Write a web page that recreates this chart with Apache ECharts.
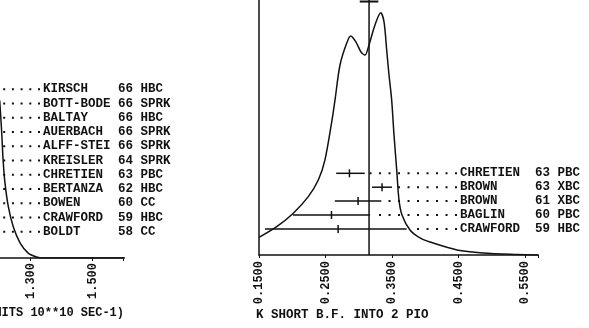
<!DOCTYPE html>
<html><head><meta charset="utf-8">
<script src="https://cdn.jsdelivr.net/npm/echarts@6/dist/echarts.min.js"></script>
<style>html,body{margin:0;padding:0;background:#fff}#c{width:589px;height:328px}</style>
</head><body><div id="c"></div>
<script>
// ---------- Left panel (partly cut off) ----------
const leftNames = ['KIRSCH','BOTT-BODE','BALTAY','AUERBACH','ALFF-STEI','KREISLER','CHRETIEN','BERTANZA','BOWEN','CRAWFORD','BOLDT'];
const leftYears = ['66','66','66','66','66','64','63','62','60','59','58'];
const leftTypes = ['HBC','SPRK','HBC','SPRK','SPRK','SPRK','PBC','HBC','CC','HBC','CC'];
const leftIdeoX = [1.200,1.206,1.211,1.217,1.228,1.244,1.266,1.292,1.319,1.340,1.604];
const leftIdeoY = [61.0,49.6,38.0,29.1,19.8,12.0,5.8,1.9,0.4,0,0];

// ---------- Right panel: K SHORT B.F. INTO 2 PIO ----------
const rightNames = ['CHRETIEN','BROWN','BROWN','BAGLIN','CRAWFORD'];
const rightYears = ['63','63','61','60','59'];
const rightTypes = ['PBC','XBC','XBC','PBC','HBC'];
const rightValues = [0.286,0.335,0.299,0.259,0.269];
const rightErrLo = [0.020,0.015,0.035,0.058,0.110];
const rightErrHi = [0.023,0.015,0.035,0.058,0.103];
const rightMean = 0.3155;
const rightMeanErr = 0.014;
const rightIdeoX = [0.150,0.1766,0.2016,0.2241,0.2392,0.2492,0.2598,0.2643,0.2718,0.2819,0.2879,0.2959,0.3034,0.3094,0.3154,0.3244,0.3330,0.3380,0.3420,0.3455,0.3495,0.3530,0.3571,0.3605,0.3650,0.3771,0.3921,0.4071,0.4477,0.4868,0.5380,0.5695];
const rightIdeoY = [6.9,11.1,16.4,22.9,29.4,37.3,52.9,60.8,74.5,83.1,85.9,83.5,79.6,78.4,82.4,90.2,95.0,91.4,80.4,70.6,60.8,47.1,33.3,21.6,15.7,9.8,6.7,5.1,2.0,0.8,0.2,0];

const INK = '#111';
const FONT = '"Liberation Mono", "DejaVu Sans Mono", monospace';
const LEFT_LABEL_X = 1.3397, RIGHT_LABEL_X = 0.4523;

function pad(s, n){ while (s.length < n) s += ' '; return s; }
function rowText(n, y, t){ return pad(n, 10) + y + ' ' + t; }
function tickFmt(min, step, dec){
  return v => { const k = (v - min) / step; return Math.abs(k - Math.round(k)) < 1e-6 ? v.toFixed(dec) : ''; };
}

const leftRows = leftNames.map((n, i) => [1.1, i, rowText(n, leftYears[i], leftTypes[i])]);
const rightRows = rightNames.map((n, i) => [rightValues[i] - rightErrLo[i], i, rightValues[i], rightValues[i] + rightErrHi[i], rowText(n, rightYears[i], rightTypes[i])]);

const chart = echarts.init(document.getElementById('c'), null, {renderer: 'canvas'});
chart.setOption({
  animation: false,
  backgroundColor: '#fff',
  grid: [
    {left: -31.3, top: 0, width: 155, height: 258, outerBoundsMode: 'none', containLabel: false},
    {left: 259, top: 0, width: 279.3, height: 255, outerBoundsMode: 'none', containLabel: false}
  ],
  xAxis: [
    {gridIndex: 0, type: 'value', min: 1.1, max: 1.6, interval: 0.2,
     axisLine: {onZero: false, lineStyle: {color: INK, width: 1.5}},
     axisTick: {show: true, length: 3, lineStyle: {color: INK}},
     splitLine: {show: false},
     axisLabel: {rotate: 90, margin: 5, color: INK, fontFamily: FONT, fontWeight: 'bold', fontSize: 12, formatter: tickFmt(1.1, 0.2, 3)}},
    {gridIndex: 1, type: 'value', min: 0.15, max: 0.57, interval: 0.1,
     axisLine: {onZero: false, lineStyle: {color: INK, width: 1.5}},
     axisTick: {show: true, length: 3, lineStyle: {color: INK}},
     splitLine: {show: false},
     axisLabel: {rotate: 90, margin: 6, color: INK, fontFamily: FONT, fontWeight: 'bold', fontSize: 12, formatter: tickFmt(0.15, 0.1, 4)}}
  ],
  yAxis: [
    {gridIndex: 0, type: 'value', min: 0, max: 100, show: false},
    {gridIndex: 0, type: 'value', min: -6.271, max: 11.847, inverse: true, show: false},
    {gridIndex: 1, type: 'value', min: 0, max: 100,
     axisLine: {show: true, onZero: false, lineStyle: {color: INK, width: 1.5}},
     axisTick: {show: false}, axisLabel: {show: false}, splitLine: {show: false}},
    {gridIndex: 1, type: 'value', min: -12.468, max: 5.877, inverse: true, show: false}
  ],
  graphic: [
    {type: 'text', x: 124, y: 313, style: {text: '(UNITS 10**10 SEC-1)', align: 'right', verticalAlign: 'middle', fill: INK, font: 'bold 12px ' + FONT}},
    {type: 'text', x: 256, y: 315, style: {text: 'K SHORT B.F. INTO 2 PIO', align: 'left', verticalAlign: 'middle', fill: INK, font: 'bold 12.5px ' + FONT}}
  ],
  series: [
    {type: 'line', xAxisIndex: 0, yAxisIndex: 0, data: leftIdeoX.map((x, i) => [x, leftIdeoY[i]]),
     showSymbol: false, smooth: 0.3, lineStyle: {color: INK, width: 1.5}},
    {type: 'line', xAxisIndex: 1, yAxisIndex: 2, data: rightIdeoX.map((x, i) => [x, rightIdeoY[i]]),
     showSymbol: false, smooth: 0.3, lineStyle: {color: INK, width: 1.5}},
    {type: 'line', xAxisIndex: 1, yAxisIndex: 2, data: [[rightMean, 0], [rightMean, 100]],
     showSymbol: false, lineStyle: {color: INK, width: 1.5}},
    {type: 'line', xAxisIndex: 1, yAxisIndex: 2, data: [[rightMean - rightMeanErr, 99.4], [rightMean + rightMeanErr, 99.4]],
     showSymbol: false, clip: false, lineStyle: {color: INK, width: 2}},
    {type: 'custom', xAxisIndex: 0, yAxisIndex: 1, clip: false, data: leftRows,
     renderItem(params, api){
       const r = api.value(1);
       const a = api.coord([api.value(0), r]);
       const lab = api.coord([LEFT_LABEL_X, r]);
       return {type: 'group', children: [
         {type: 'line', shape: {x1: lab[0] - 3, y1: lab[1], x2: a[0], y2: a[1]}, style: {stroke: INK, lineWidth: 2, lineDash: [2, 6.7]}},
         {type: 'text', x: lab[0], y: lab[1], style: {text: leftRows[params.dataIndex][2], fill: INK, font: 'bold 12.5px ' + FONT, align: 'left', verticalAlign: 'middle'}}
       ]};
     }},
    {type: 'custom', xAxisIndex: 1, yAxisIndex: 3, clip: false, data: rightRows,
     renderItem(params, api){
       const r = api.value(1);
       const lo = api.coord([api.value(0), r]);
       const c = api.coord([api.value(2), r]);
       const hi = api.coord([api.value(3), r]);
       const lab = api.coord([RIGHT_LABEL_X, r]);
       return {type: 'group', children: [
         {type: 'line', shape: {x1: lo[0], y1: lo[1], x2: hi[0], y2: hi[1]}, style: {stroke: INK, lineWidth: 1.5}},
         {type: 'line', shape: {x1: c[0], y1: c[1] - 4, x2: c[0], y2: c[1] + 4}, style: {stroke: INK, lineWidth: 1.5}},
         {type: 'line', shape: {x1: lab[0] - 3, y1: lab[1], x2: hi[0] + 4, y2: hi[1]}, style: {stroke: INK, lineWidth: 2, lineDash: [2, 7.5]}},
         {type: 'text', x: lab[0], y: lab[1], style: {text: rightRows[params.dataIndex][4], fill: INK, font: 'bold 12.5px ' + FONT, align: 'left', verticalAlign: 'middle'}}
       ]};
     }}
  ]
});
</script></body></html>
